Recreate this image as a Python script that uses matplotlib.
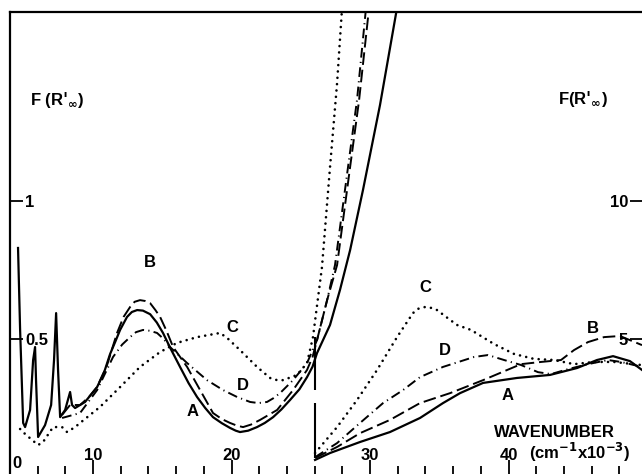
import numpy as np
import matplotlib.pyplot as plt

plt.rcParams['font.family'] = ['Liberation Sans', 'DejaVu Sans']
plt.rcParams['font.weight'] = 'bold'
plt.rcParams['mathtext.default'] = 'bf'

# left part of the spectrum, read on the left scale (0 - 1)
a_left_x = [4.58, 4.73, 4.95, 5.09, 5.45, 5.67, 5.81, 5.88, 6.03, 6.53, 6.97, 7.18, 7.33, 7.47,
            7.62, 7.98, 8.34, 8.48, 8.70, 9.42, 10.29, 10.8, 11.23, 11.6, 11.95, 12.45, 12.8,
            13.18, 13.6, 14.12, 14.6, 15.05, 15.6, 16.28, 16.9, 17.51, 18.1, 18.66, 19.3, 19.89,
            20.3, 20.61, 21.2, 21.84, 22.4, 23.0, 23.6, 24.22, 24.9, 25.45, 25.85, 26.17, 27.11,
            27.83, 28.56, 29.49, 30.72, 31.95]
a_left_y = [0.830, 0.533, 0.196, 0.181, 0.243, 0.424, 0.471, 0.351, 0.145, 0.188, 0.261, 0.424,
            0.594, 0.388, 0.217, 0.243, 0.308, 0.261, 0.250, 0.272, 0.326, 0.380, 0.446, 0.490,
            0.533, 0.580, 0.598, 0.605, 0.603, 0.590, 0.560, 0.522, 0.465, 0.399, 0.340, 0.290,
            0.250, 0.217, 0.195, 0.178, 0.168, 0.163, 0.168, 0.181, 0.196, 0.217, 0.245, 0.279,
            0.318, 0.362, 0.400, 0.449, 0.551, 0.678, 0.822, 1.040, 1.348, 1.700]

b_left_x = [7.76, 8.34, 9.06, 9.7, 10.29, 11.01, 11.73, 12.2, 12.67, 13.0, 13.39, 13.75, 14.12,
            14.5, 14.84, 15.3, 15.78, 16.79, 17.73, 18.66, 19.3, 19.89, 20.4, 20.83, 21.4, 22.06,
            23.29, 24.44, 25.45, 25.85, 26.17, 26.9, 27.62, 28.56, 29.21, 29.93]
b_left_y = [0.225, 0.261, 0.261, 0.290, 0.326, 0.406, 0.522, 0.580, 0.616, 0.635, 0.641, 0.638,
            0.630, 0.605, 0.580, 0.530, 0.471, 0.399, 0.315, 0.232, 0.210, 0.196, 0.186, 0.181,
            0.190, 0.207, 0.243, 0.315, 0.388, 0.435, 0.496, 0.641, 0.768, 1.123, 1.366, 1.700]

c_left_x = [4.73, 5.09, 5.6, 6.03, 6.39, 7.11, 7.76, 8.12, 8.7, 9.06, 10.5, 11.95, 13.39, 14.84,
            16.06, 17.51, 18.5, 19.17, 19.68, 20.61, 21.84, 22.78, 23.2, 23.72, 24.73, 25.45,
            25.88, 26.25, 26.53, 27.11, 27.62, 27.98]
c_left_y = [0.174, 0.156, 0.134, 0.116, 0.127, 0.181, 0.181, 0.163, 0.181, 0.196, 0.254, 0.326,
            0.399, 0.453, 0.486, 0.507, 0.516, 0.522, 0.504, 0.460, 0.399, 0.359, 0.352, 0.351,
            0.370, 0.413, 0.507, 0.652, 0.761, 1.123, 1.427, 1.700]

d_left_x = [7.76, 9.06, 10.29, 11.44, 12.1, 12.67, 13.1, 13.61, 14.1, 14.62, 15.1, 15.56, 16.79,
            18.23, 19.39, 20.4, 21.34, 21.95, 22.56, 23.0, 23.5, 24.44, 25.45, 26.17, 26.9,
            27.47, 28.41, 29.06, 29.71]
d_left_y = [0.214, 0.232, 0.315, 0.435, 0.480, 0.507, 0.525, 0.533, 0.530, 0.522, 0.500, 0.471,
            0.413, 0.351, 0.315, 0.290, 0.272, 0.268, 0.272, 0.285, 0.304, 0.351, 0.413, 0.496,
            0.641, 0.768, 1.123, 1.366, 1.700]

# right part, read on the right scale (0 - 10)
a_right_x = [26.03, 27.11, 29.28, 31.44, 33.61, 35.27, 36.5, 38.16, 40.61, 43.0, 44.95, 46.39,
             47.55, 48.77, 49.64]
a_right_y = [0.62, 0.87, 1.27, 1.63, 2.14, 2.68, 3.04, 3.41, 3.59, 3.70, 3.95, 4.24, 4.38, 4.20,
             3.88]

b_right_x = [26.03, 27.62, 29.28, 31.44, 33.61, 35.78, 38.16, 40.9, 42.35, 43.79, 44.73, 45.74,
             46.9, 48.05, 49.64]
b_right_y = [0.69, 1.09, 1.59, 2.07, 2.68, 3.04, 3.51, 4.09, 4.17, 4.24, 4.60, 4.89, 5.07, 5.11,
             4.78]

c_right_x = [26.03, 27.62, 29.06, 30.51, 31.95, 33.1, 33.5, 33.97, 34.4, 34.84, 35.5, 36.28,
             37.29, 38.95, 40.4, 41.84, 43.29, 44.73, 46.17, 47.62, 49.57]
c_right_y = [0.87, 1.81, 2.79, 3.88, 5.07, 5.94, 6.10, 6.16, 6.13, 6.05, 5.80, 5.51, 5.33, 4.82,
             4.46, 4.28, 4.24, 4.09, 4.17, 4.17, 4.06]

d_right_x = [26.03, 27.62, 29.28, 30.94, 32.38, 33.61, 35.27, 37.51, 38.52, 39.68, 40.9, 42.13,
             43.07, 44.3, 45.74, 47.18, 48.12, 49.64]
d_right_y = [0.72, 1.23, 1.96, 2.68, 3.15, 3.62, 3.99, 4.35, 4.42, 4.24, 4.06, 3.80, 3.73, 3.91,
             4.09, 4.24, 4.17, 3.99]

# break between the two scales
BREAK_X = 26.0

styles = {
    'A': dict(color='black', lw=1.6, ls='-'),
    'B': dict(color='black', lw=1.4, ls=(0, (6.5, 2.5))),
    'C': dict(color='black', lw=1.9, ls=(0, (0.01, 2.4)), dash_capstyle='round'),
    'D': dict(color='black', lw=1.4, ls=(0, (5, 2.2, 0.6, 2.2))),
}

fig = plt.figure(figsize=(6.42, 4.74), dpi=100)
ax = fig.add_axes([10 / 642, 0.0, 632 / 642, 462 / 474])
ax2 = ax.twinx()

ax.plot(a_left_x, a_left_y, **styles['A'])
ax.plot(b_left_x, b_left_y, **styles['B'])
ax.plot(c_left_x, c_left_y, **styles['C'])
ax.plot(d_left_x, d_left_y, **styles['D'])

ax2.plot(a_right_x, a_right_y, **styles['A'])
ax2.plot(b_right_x, b_right_y, **styles['B'])
ax2.plot(c_right_x, c_right_y, **styles['C'])
ax2.plot(d_right_x, d_right_y, **styles['D'])

ax.vlines(BREAK_X, 0.315, 0.507, color='black', lw=1.5)
ax.vlines(BREAK_X, 0.069, 0.268, color='black', lw=1.5)

ax.set_xlim(4.0, 49.64)
ax.set_ylim(0.011, 1.685)
ax2.set_ylim(0.11, 16.85)

for s in ['bottom', 'right']:
    ax.spines[s].set_visible(False)
for s in ['left', 'top']:
    ax.spines[s].set_linewidth(1.6)
for s in ax2.spines.values():
    s.set_visible(False)

ax.set_xticks([10, 20, 30, 40])
ax.set_xticklabels(['10', '20', '30', '40'])
ax.set_xticks(np.arange(6, 50, 2), minor=True)
ax.tick_params(axis='x', which='major', direction='in', length=10, width=1.3,
               pad=-19, labelsize=12)
ax.tick_params(axis='x', which='minor', direction='in', length=6, width=1.3)

ax.set_yticks([0.5, 1.0])
ax.set_yticklabels(['0.5', '1'])
ax.tick_params(axis='y', direction='in', length=9, width=1.3, pad=-11, labelsize=12,
               right=False)
for lab in ax.get_yticklabels():
    lab.set_horizontalalignment('left')

ax2.set_yticks([5, 10])
ax2.set_yticklabels(['5', '10'])
ax2.tick_params(axis='y', direction='in', length=9, width=1.3, pad=-10, labelsize=12)
for lab in ax2.get_yticklabels():
    lab.set_horizontalalignment('right')

ax.text(4.5, 0.05, '0', fontsize=12, ha='center', va='center')
ax.text(5.45, 1.366, r"F (R$'_{\infty}$)", fontsize=12, ha='left', va='center')
ax.text(43.6, 1.37, r"F(R$'_{\infty}$)", fontsize=12, ha='left', va='center')

ax.text(38.95, 0.163, 'WAVENUMBER', fontsize=12, ha='left', va='center')
ax.text(41.5, 0.088, r'(cm$^{-1}$x10$^{-3}$)', fontsize=12, ha='left', va='center')

# curve letters
for letter, x, y in [('B', 14.12, 0.779), ('A', 17.22, 0.236), ('C', 20.04, 0.543),
                     ('D', 20.83, 0.33), ('C', 33.97, 0.685), ('D', 35.42, 0.46),
                     ('B', 46.1, 0.54), ('A', 39.9, 0.297)]:
    ax.text(x, y, letter, fontsize=12, ha='center', va='center')

fig.savefig('out.png', dpi=100)
